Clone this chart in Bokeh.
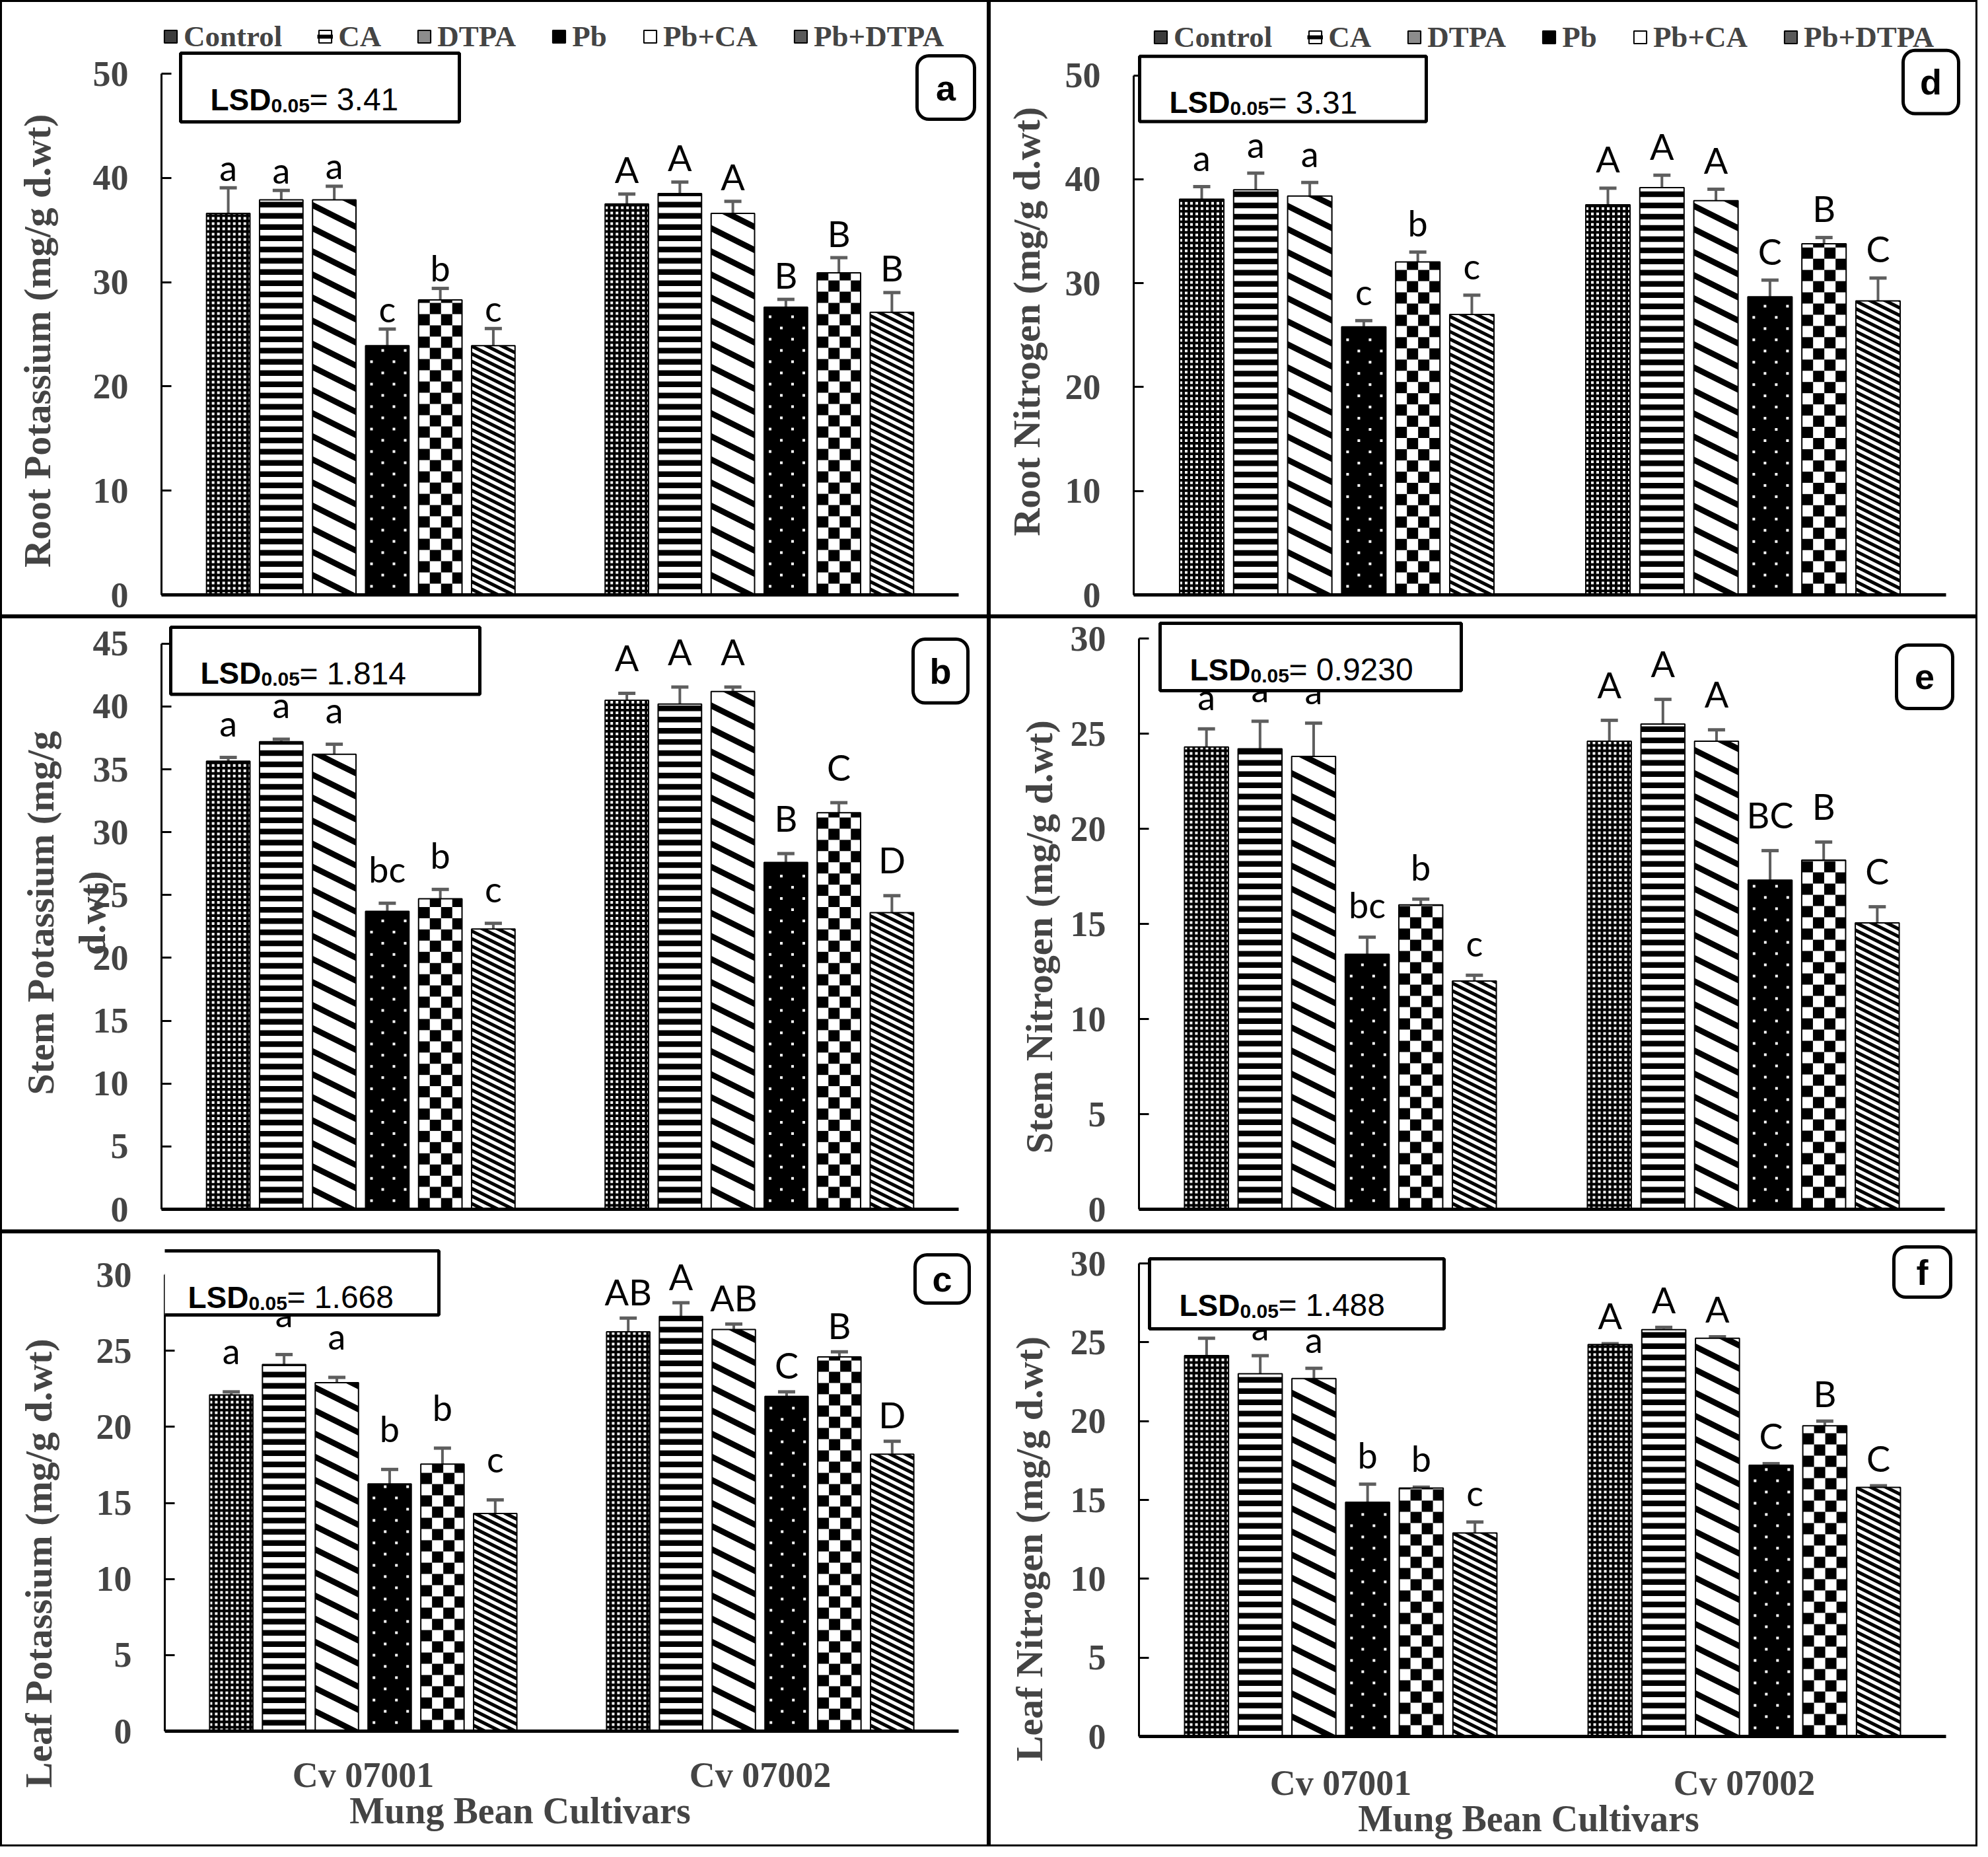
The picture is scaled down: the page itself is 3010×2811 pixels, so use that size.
from bokeh.plotting import figure
from bokeh.models import (Range1d, FixedTicker, Legend, LegendItem, Whisker, TeeHead,
                          ColumnDataSource, BoxAnnotation, Label)
from bokeh.layouts import column, row
from bokeh.core.properties import value
from bokeh.embed import file_html
from bokeh.resources import INLINE

# ---------------- data ----------------
treatments = ["Control", "CA", "DTPA", "Pb", "Pb+CA", "Pb+DTPA"]
cultivars = ["Cv 07001", "Cv 07002"]

root_k_cv1 = [36.6, 37.9, 37.9, 23.9, 28.3, 23.9]
root_k_cv2 = [37.5, 38.5, 36.6, 27.6, 30.9, 27.1]
root_k_err_cv1 = [2.45, 0.9, 1.3, 1.6, 1.1, 1.65]
root_k_err_cv2 = [0.95, 1.1, 1.15, 0.75, 1.45, 1.9]
root_k_let_cv1 = ["a", "a", "a", "c", "b", "c"]
root_k_let_cv2 = ["A", "A", "A", "B", "B", "B"]

stem_k_cv1 = [35.65, 37.2, 36.2, 23.7, 24.7, 22.3]
stem_k_cv2 = [40.5, 40.2, 41.2, 27.6, 31.55, 23.6]
stem_k_err_cv1 = [0.3, 0.2, 0.8, 0.65, 0.75, 0.45]
stem_k_err_cv2 = [0.55, 1.35, 0.35, 0.7, 0.8, 1.35]
stem_k_let_cv1 = ["a", "a", "a", "bc", "b", "c"]
stem_k_let_cv2 = ["A", "A", "A", "B", "C", "D"]

leaf_k_cv1 = [22.1, 24.1, 22.9, 16.25, 17.55, 14.3]
leaf_k_cv2 = [26.25, 27.25, 26.4, 22.0, 24.6, 18.2]
leaf_k_err_cv1 = [0.2, 0.65, 0.35, 0.95, 1.05, 0.9]
leaf_k_err_cv2 = [0.9, 0.9, 0.35, 0.3, 0.33, 0.85]
leaf_k_let_cv1 = ["a", "a", "a", "b", "b", "c"]
leaf_k_let_cv2 = ["AB", "A", "AB", "C", "B", "D"]

root_n_cv1 = [38.1, 39.0, 38.4, 25.8, 32.05, 27.0]
root_n_cv2 = [37.55, 39.2, 37.95, 28.7, 33.8, 28.3]
root_n_err_cv1 = [1.2, 1.6, 1.3, 0.6, 0.95, 1.85]
root_n_err_cv2 = [1.6, 1.2, 1.1, 1.6, 0.6, 2.2]
root_n_let_cv1 = ["a", "a", "a", "c", "b", "c"]
root_n_let_cv2 = ["A", "A", "A", "C", "B", "C"]

stem_n_cv1 = [24.3, 24.2, 23.8, 13.4, 16.0, 12.0]
stem_n_cv2 = [24.6, 25.5, 24.6, 17.3, 18.35, 15.05]
stem_n_err_cv1 = [0.95, 1.45, 1.75, 0.9, 0.3, 0.3]
stem_n_err_cv2 = [1.1, 1.3, 0.6, 1.55, 0.95, 0.85]
stem_n_let_cv1 = ["a", "a", "a", "bc", "b", "c"]
stem_n_let_cv2 = ["A", "A", "A", "BC", "B", "C"]

leaf_n_cv1 = [24.15, 23.0, 22.7, 14.85, 15.75, 12.9]
leaf_n_cv2 = [24.86, 25.8, 25.25, 17.2, 19.7, 15.8]
leaf_n_err_cv1 = [1.1, 1.15, 0.65, 1.15, 0.06, 0.7]
leaf_n_err_cv2 = [0.05, 0.15, 0.1, 0.1, 0.3, 0.1]
leaf_n_let_cv1 = ["a", "a", "a", "b", "b", "c"]
leaf_n_let_cv2 = ["A", "A", "A", "C", "B", "C"]

lsd_values = {"a": "3.41", "b": "1.814", "c": "1.668", "d": "3.31", "e": "0.9230", "f": "1.488"}

# ---------------- styles ----------------
SERIF = "Liberation Serif"
SANS = "Liberation Sans"
LETTER_FONT = "Lato"
ERR_COLOR = "#5e5e5e"
PW = 1497
NBSP = "\u00a0"

bar_bg = ["white", "white", "white", "black", "white", "white"]
legend_swatch = ["#3c3c3c", "white", "#8c8c8c", "black", "white", "#5a5a5a"]

BAR_W = 0.109
PITCH = 0.133

# positions are measured relative to each panel of the reference; dx/dy re-align them
panels = {
    "a": dict(H=933, dx=-8, dy=-8, fl=252, fr=1459, fb=908, ymax=50, ymax_px=119, step=10,
              ylab="Root Potassium (mg/g d.wt)", ylab_pad=9, ylab_so=49, legend=(2, 63),
              lsd=(281, 88, 703, 192), lbox=(1396, 92, 1483, 188), gap=(31, 37), bottom=False,
              data=(root_k_cv1, root_k_cv2, root_k_err_cv1, root_k_err_cv2, root_k_let_cv1, root_k_let_cv2)),
    "d": dict(H=933, dx=0, dy=-8, fl=219, fr=1449, fb=910, ymax=50, ymax_px=122, step=10,
              ylab="Root Nitrogen (mg/g d.wt)", ylab_pad=5, ylab_so=23, legend=(29, 66),
              lsd=(228, 93, 662, 192), lbox=(1384, 84, 1468, 180), gap=(44, 44), bottom=False,
              data=(root_n_cv1, root_n_cv2, root_n_err_cv1, root_n_err_cv2, root_n_let_cv1, root_n_let_cv2)),
    "b": dict(H=931, dx=-8, dy=-6, fl=252, fr=1459, fb=906, ymax=45, ymax_px=47, step=5,
              ylab="Stem Potassium (mg/g\nd.wt)", ylab_pad=0, ylab_so=-34, legend=None,
              lsd=(266, 22, 734, 124), lbox=(1390, 40, 1473, 137), gap=(52, 54), bottom=False,
              data=(stem_k_cv1, stem_k_cv2, stem_k_err_cv1, stem_k_err_cv2, stem_k_let_cv1, stem_k_let_cv2)),
    "e": dict(H=931, dx=0, dy=-6, fl=227, fr=1447, fb=903, ymax=30, ymax_px=39, step=5,
              ylab="Stem Nitrogen (mg/g d.wt)", ylab_pad=5, ylab_so=12, legend=None,
              lsd=(259, 16, 715, 118), lbox=(1374, 49, 1459, 145), gap=(49, 54), bottom=False,
              data=(stem_n_cv1, stem_n_cv2, stem_n_err_cv1, stem_n_err_cv2, stem_n_let_cv1, stem_n_let_cv2)),
    "c": dict(H=931, dx=-8, dy=-4, fl=257, fr=1459, fb=760, ymax=30, ymax_px=69, step=5,
              ylab="Leaf Potassium (mg/g d.wt)", ylab_pad=5, ylab_so=52, legend=None,
              lsd=(247, 33, 672, 130), lbox=(1393, 39, 1475, 112), gap=(62, 40), bottom=True,
              xlab_so=36, xtitle_so=-10, xtitle_pad=9,
              data=(leaf_k_cv1, leaf_k_cv2, leaf_k_err_cv1, leaf_k_err_cv2, leaf_k_let_cv1, leaf_k_let_cv2)),
    "f": dict(H=931, dx=0, dy=-4, fl=227, fr=1449, fb=768, ymax=30, ymax_px=52, step=5,
              ylab="Leaf Nitrogen (mg/g d.wt)", ylab_pad=2, ylab_so=27, legend=None,
              lsd=(243, 45, 689, 151), lbox=(1370, 27, 1456, 103), gap=(44, 42), bottom=True,
              xlab_so=40, xtitle_so=-10, xtitle_pad=3,
              data=(leaf_n_cv1, leaf_n_cv2, leaf_n_err_cv1, leaf_n_err_cv2, leaf_n_let_cv1, leaf_n_let_cv2)),
}


def clip_y(pts, ymin, ymax):
    def clip(points, inside, inter):
        out = []
        n = len(points)
        for i in range(n):
            cur, prev = points[i], points[i - 1]
            if inside(cur):
                if not inside(prev):
                    out.append(inter(prev, cur))
                out.append(cur)
            elif inside(prev):
                out.append(inter(prev, cur))
        return out

    def make_inter(yc):
        def f(p, q):
            t = (yc - p[1]) / (q[1] - p[1])
            return (p[0] + t * (q[0] - p[0]), yc)
        return f

    pts = clip(pts, lambda p: p[1] >= ymin, make_inter(ymin))
    if not pts:
        return pts
    pts = clip(pts, lambda p: p[1] <= ymax, make_inter(ymax))
    return pts


def bar_pattern(j, L, R, T, B, blk, wht, polys):
    """Fill-pattern marks (screen px) inside one bar, anchored at its bottom-left corner."""
    w = R - L
    if j == 0:  # Control: fine black grid with white squares
        k = 0
        while B - 8 * k - 4 > T:
            blk.append((L, R, max(T, B - 8 * k - 8), B - 8 * k - 4))
            k += 1
        m = 0
        while L + 8 * m + 4 < R:
            blk.append((L + 8 * m + 4, min(R, L + 8 * m + 8), T, B))
            m += 1
    elif j == 1:  # CA: horizontal bands
        k = 0
        while B - 17 * k - 8.5 > T:
            blk.append((L, R, max(T, B - 17 * k - 17), B - 17 * k - 8.5))
            k += 1
    elif j in (2, 5):  # DTPA / Pb+DTPA: downward diagonal bands
        P, t = (35.0, 10.0) if j == 2 else (11.5, 5.7)
        n = 1
        while B - n * P + 0.5 * w + t > T:
            y0 = B - n * P
            poly = [(L, y0), (R, y0 + 0.5 * w), (R, y0 + 0.5 * w + t), (L, y0 + t)]
            cp = clip_y(poly, T, B)
            if len(cp) >= 3:
                polys.append(cp)
            n += 1
    elif j == 3:  # Pb: black with staggered white dots
        k = 0
        while B - 34 * k - 34 >= T - 34:
            for (ox, oy) in ((7, 11), (24, 28)):
                m = 0
                while L + 34 * m + ox + 4 <= R - 1:
                    yb = B - 34 * k - oy
                    if yb - 4 >= T + 2:
                        wht.append((L + 34 * m + ox, L + 34 * m + ox + 4, yb - 4, yb))
                    m += 1
            k += 1
    elif j == 4:  # Pb+CA: checkerboard
        k = 0
        while B - 17 * k > T:
            m = 0
            while L + 17 * m < R:
                if (m + k) % 2 == 0:
                    blk.append((L + 17 * m, min(R, L + 17 * m + 17), max(T, B - 17 * k - 17), B - 17 * k))
                m += 1
            k += 1


def make_panel(key):
    c = panels[key]
    dx, dy = c["dx"], c["dy"]
    H = c["H"]
    bottom = c["bottom"]
    fl, fr, fb = c["fl"] + dx, c["fr"] + dx, c["fb"] + dy
    FB = H if bottom else fb          # frame bottom (px); bottom row keeps its axis at y=0 inside
    ytop_px = c["ymax_px"] + dy
    fw = fr - fl
    u = (fb - ytop_px) / c["ymax"]     # px per data unit
    xend = 2.0 * (PW - fl) / fw
    ystart = -(FB - fb) / u
    yend = fb / u

    def xd(px):  # reference px -> data
        return (px + dx - fl) / fw * 2.0

    def yd(py):
        return (fb - (py + dy)) / u

    def sx2d(px):  # canvas px -> data
        return (px - fl) / fw * 2.0

    def sy2d(py):
        return (fb - py) / u

    def d2sx(x):
        return fl + x / 2.0 * fw

    def d2sy(y):
        return fb - y * u

    p = figure(width=PW, height=H, x_range=Range1d(0, xend), y_range=Range1d(ystart, yend),
               output_backend="svg", toolbar_location=None,
               min_border_left=fl, min_border_right=0,
               min_border_top=0, min_border_bottom=H - FB)
    p.outline_line_color = None
    p.xgrid.visible = False
    p.ygrid.visible = False
    p.background_fill_alpha = 0
    p.border_fill_alpha = 0
    p.styles = {"outline": "3px solid black", "outline-offset": "-3px"}

    m1, m2, e1, e2, l1, l2 = c["data"]
    means = [m1, m2]
    errs = [e1, e2]
    lets = [l1, l2]

    blk, wht, polys = [], [], []
    bar_x, bar_top, bar_col = [], [], []
    err_src = {i: dict(x=[], upper=[], lower=[], letter=[]) for i in range(2)}
    for j, t in enumerate(treatments):
        for i in range(2):
            xc = i + 0.5 + (j - 2.5) * PITCH
            v = means[i][j]
            bar_x.append(xc)
            bar_top.append(v)
            bar_col.append(bar_bg[j])
            err_src[i]["x"].append(xc)
            err_src[i]["upper"].append(v + errs[i][j])
            err_src[i]["lower"].append(v - errs[i][j])
            err_src[i]["letter"].append(lets[i][j])
            L, R = d2sx(xc - BAR_W / 2), d2sx(xc + BAR_W / 2)
            T, B = d2sy(v), d2sy(0)
            bar_pattern(j, L, R, T, B, blk, wht, polys)

    bsrc = ColumnDataSource(dict(x=bar_x, top=bar_top, color=bar_col))
    p.vbar(x="x", top="top", bottom=0, width=BAR_W, source=bsrc,
           fill_color="color", line_color=None)
    if blk:
        p.quad(left=[sx2d(q[0]) for q in blk], right=[sx2d(q[1]) for q in blk],
               top=[sy2d(q[2]) for q in blk], bottom=[sy2d(q[3]) for q in blk],
               fill_color="black", line_color=None)
    if wht:
        p.quad(left=[sx2d(q[0]) for q in wht], right=[sx2d(q[1]) for q in wht],
               top=[sy2d(q[2]) for q in wht], bottom=[sy2d(q[3]) for q in wht],
               fill_color="white", line_color=None)
    if polys:
        p.patches(xs=[[sx2d(pt[0]) for pt in pl] for pl in polys],
                  ys=[[sy2d(pt[1]) for pt in pl] for pl in polys],
                  fill_color="black", line_color=None)
    p.vbar(x="x", top="top", bottom=0, width=BAR_W, source=bsrc,
           fill_color=None, line_color="black", line_width=2)

    for i in range(2):
        esrc = ColumnDataSource(err_src[i])
        p.text(x="x", y="upper", text="letter", source=esrc, text_align="center",
               text_baseline="alphabetic", y_offset=-c["gap"][i], text_font=value(LETTER_FONT),
               text_font_size="54px", text_color="black")
        p.add_layout(Whisker(source=esrc, base="x", upper="upper", lower="lower",
                             line_color=ERR_COLOR, line_width=4,
                             upper_head=TeeHead(size=26, line_color=ERR_COLOR, line_width=5),
                             lower_head=TeeHead(size=26, line_color=ERR_COLOR, line_width=5)))

    # y axis
    yax = p.yaxis[0]
    yax.ticker = FixedTicker(ticks=list(range(0, c["ymax"] + 1, c["step"])))
    yax.bounds = (0, c["ymax"])
    yax.axis_line_width = 3
    yax.axis_line_color = "black"
    yax.major_tick_in = 15
    yax.major_tick_out = 0
    yax.major_tick_line_width = 3
    yax.minor_tick_line_color = None
    yax.major_label_text_font = SERIF
    yax.major_label_text_font_style = "bold"
    yax.major_label_text_font_size = "54px"
    yax.major_label_standoff = 50
    # trailing no-break spaces move the centred title down to where the reference has it
    yax.axis_label = c["ylab"] + NBSP * c["ylab_pad"]
    yax.axis_label_text_font = SERIF
    yax.axis_label_text_font_style = "bold"
    yax.axis_label_text_font_size = "58px"
    yax.axis_label_standoff = c["ylab_so"]

    # x axis
    xax = p.xaxis[0]
    xax.bounds = (0, 2)
    xax.axis_line_width = 5
    xax.axis_line_color = "black"
    xax.major_tick_line_color = None
    xax.minor_tick_line_color = None
    xax.major_tick_in = 0
    xax.major_tick_out = 0
    if bottom:
        xax.fixed_location = 0
        xax.ticker = FixedTicker(ticks=[0.5, 1.5])
        xax.major_label_overrides = {0.5: cultivars[0], 1.5: cultivars[1]}
        xax.major_label_text_font = SERIF
        xax.major_label_text_font_style = "bold"
        xax.major_label_text_font_size = "54px"
        xax.major_label_standoff = c["xlab_so"]
        xax.axis_label = "Mung Bean Cultivars" + NBSP * c["xtitle_pad"]
        xax.axis_label_text_font = SERIF
        xax.axis_label_text_font_style = "bold"
        xax.axis_label_text_font_size = "56px"
        xax.axis_label_standoff = c["xtitle_so"]
    else:
        xax.ticker = FixedTicker(ticks=[])
        xax.major_label_standoff = 0

    # legend (swatches are off-range renderers styled like the bars)
    if c["legend"] is not None:
        vx, cy = c["legend"]
        items = []
        for j, t in enumerate(treatments):
            rr = [p.vbar(x=[-5.0], top=[0.0], bottom=0, width=BAR_W,
                         fill_color=legend_swatch[j], line_color="black", line_width=2)]
            if j == 1:
                rr.append(p.line(x=[-6.0, -5.0], y=[0.0, 0.0], line_color="black", line_width=6))
            items.append(LegendItem(label=t, renderers=rr))
        leg = Legend(items=items, orientation="horizontal", location=(vx, fb - (cy + dy) - 26),
                     label_text_font=SERIF, label_text_font_style="bold",
                     label_text_font_size="45px", glyph_width=24, glyph_height=24,
                     label_standoff=8, spacing=53, padding=0, margin=0,
                     border_line_color=None, background_fill_alpha=0)
        p.add_layout(leg)

    # LSD box
    bl, bt, br, bb = c["lsd"]
    p.add_layout(BoxAnnotation(left=xd(bl), right=xd(br), top=yd(bt), bottom=yd(bb),
                               fill_color="white", fill_alpha=1.0,
                               line_color="black", line_width=5, line_alpha=1.0))
    tx = xd(bl + 45)
    p.add_layout(Label(x=tx, y=yd(bt + 70), text="LSD", text_font=SANS,
                       text_font_style="bold", text_font_size="46px",
                       text_baseline="alphabetic", text_color="black"))
    p.add_layout(Label(x=tx, y=yd(bt + 79), x_offset=92, text="0.05", text_font=SANS,
                       text_font_style="bold", text_font_size="30px",
                       text_baseline="alphabetic", text_color="black"))
    p.add_layout(Label(x=tx, y=yd(bt + 70), x_offset=150, text="= " + lsd_values[key],
                       text_font=SANS, text_font_style="normal", text_font_size="48px",
                       text_baseline="alphabetic", text_color="black"))

    # panel letter box
    ll, lt, lr, lb = c["lbox"]
    p.add_layout(BoxAnnotation(left=xd(ll), right=xd(lr), top=yd(lt), bottom=yd(lb),
                               fill_color="white", fill_alpha=1.0, border_radius=18,
                               line_color="black", line_width=5, line_alpha=1.0))
    p.add_layout(Label(x=xd((ll + lr) / 2), y=yd((lt + lb) / 2), text=key,
                       text_font=SANS, text_font_style="bold", text_font_size="54px",
                       text_align="center", text_baseline="middle", text_color="black"))
    return p


layout = column(row(make_panel("a"), make_panel("d")),
                row(make_panel("b"), make_panel("e")),
                row(make_panel("c"), make_panel("f")))

open("out.html", "w").write(file_html(layout, INLINE))
